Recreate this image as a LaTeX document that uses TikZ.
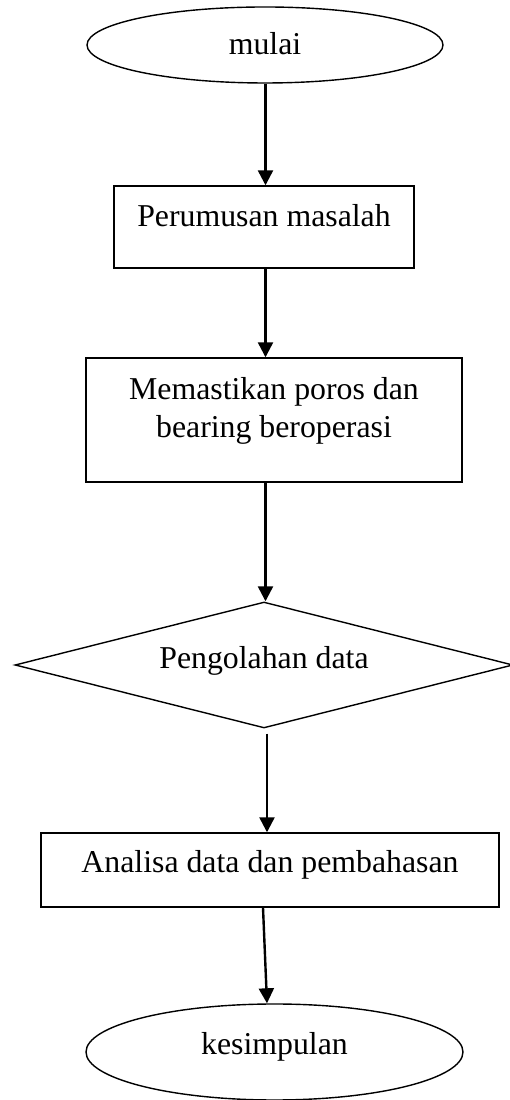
\documentclass[tikz,border=0pt]{standalone}
\usepackage{fontspec}
\setmainfont{Liberation Serif}
\usetikzlibrary{shapes.geometric,arrows.meta,calc}
\begin{document}
\begin{tikzpicture}[x=1pt,y=1pt,
  lbl/.style={font=\fontsize{31.8pt}{38pt}\selectfont},
  shp/.style={draw=black, line width=1.4pt, inner sep=0pt, lbl},
  boxn/.style={shp, rectangle},
  ovl/.style={shp, ellipse},
  dia/.style={shp, diamond},
  txt/.style={inner sep=0pt, lbl},
  arr/.style={line width=2.4pt, -{Triangle[length=15pt,width=15pt]}}]
\useasboundingbox (0,0) rectangle (510,1100);
\coordinate (ax) at (265.5,0);
\coordinate (ax2) at (267,0);
\node[ovl, minimum width=356pt, minimum height=76pt, text height=20pt, text depth=0pt] (m) at (265,1055) {mulai};
\node[boxn, minimum width=300pt, minimum height=82pt, text height=0pt, text depth=0pt] (b1) at (264,873) {Perumusan masalah};
\node[boxn, minimum width=376pt, minimum height=124pt] (b2) at (274,680) {};
\node[txt, anchor=base] (b2a) at ($(b2.center)+(0,20)$) {Memastikan poros dan};
\node[txt, anchor=base] (b2b) at ($(b2.center)+(0,-18)$) {bearing beroperasi};
\node[dia, aspect=3.95, minimum width=498pt, minimum height=126pt, text height=8pt, text depth=0pt] (d) at (264,435) {Pengolahan data};
\node[boxn, minimum width=458pt, minimum height=74pt, text height=6pt, text depth=0pt] (b3) at (270,230) {Analisa data dan pembahasan};
\node[ovl, minimum width=377pt, minimum height=96pt, text height=6pt, text depth=0pt] (k) at (274.5,48) {kesimpulan};
\draw[arr] (m.south -| ax) -- (b1.north -| ax);
\draw[arr] (b1.south -| ax) -- (b2.north -| ax);
\draw[arr] (b2.south -| ax) -- (d.north -| ax);
\draw[arr] ($(d.south -| ax2)+(0,-5)$) -- (b3.north -| ax2);
\draw[arr] ($(b3.south)+(-7,0)$) -- ($(k.north)+(-7.5,0)$);
\end{tikzpicture}
\end{document}
